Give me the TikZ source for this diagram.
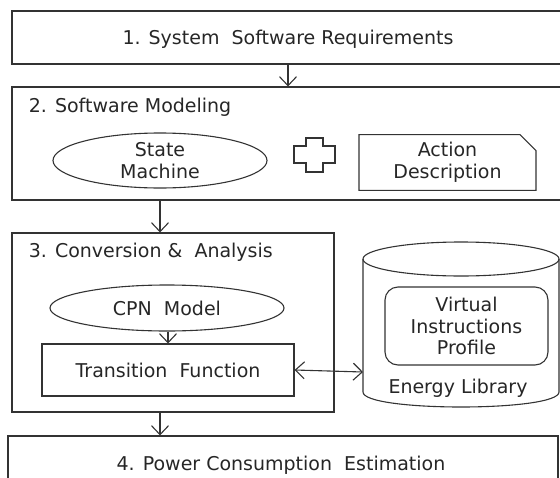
\documentclass[tikz,border=0pt]{standalone}
\usepackage{fontspec}
\setmainfont{DejaVu Sans}
\usetikzlibrary{shapes,arrows.meta,positioning}

\begin{document}
\begin{tikzpicture}[x=1pt, y=-1pt, line width=1.1pt, color=black!80,
    >={Straight Barb[length=9pt,width=17pt]},
    every node/.style={font=\fontsize{19}{21.5}\selectfont, text=black!85},
    box/.style={draw, rectangle, inner sep=0pt},
    oval/.style={draw, ellipse, inner sep=0pt},
    title/.style={anchor=west}]
   \useasboundingbox (0,0) rectangle (560,477);
   % step boxes
   \node[box, minimum width=600pt, minimum height=53pt] (req) at (312,37.5) {};
   \node (reqtext) at (288,39) {1. System\ \ Software Requirements};
   \node[box, minimum width=600pt, minimum height=113pt] (model) at (312,143.5) {};
   \node[title] (modeltext) at (25,107) {2. Software Modeling};
   \node[oval, minimum width=214pt, minimum height=55pt, align=center] (sm) at (160,160.5) {State\\Machine};
   \draw (306,138) -- (323,138) -- (323,146) -- (335,146) -- (335,163) -- (323,163)
     -- (323,172) -- (306,172) -- (306,163) -- (294,163) -- (294,146) -- (306,146) -- cycle;
   \node[draw, chamfered rectangle, chamfered rectangle corners=north east, chamfered rectangle xsep=8pt,
     chamfered rectangle ysep=8pt, inner sep=0pt, minimum width=177pt, minimum height=47pt, align=center]
     (act) at (447.5,162.5) {Action\\Description};
   \node[box, minimum width=322pt, minimum height=179pt] (conv) at (173,322.5) {};
   \node[title] (convtext) at (25,252) {3. Conversion \&\ \ Analysis};
   \node[oval, minimum width=234pt, minimum height=46pt] (cpn) at (167,308) {CPN\ \ Model};
   \node[box, minimum width=252pt, minimum height=52pt] (trans) at (168,370) {Transition\ \ Function};
   % energy library
   \draw (363,259) -- (363,392) .. controls (363,412) and (559,412) .. (559,392) -- (559,259);
   \node[oval, minimum width=196pt, minimum height=34pt] (libtop) at (461,259) {};
   \coordinate (lib) at (363,372);
   \node[draw, rounded corners=13pt, minimum width=163pt, minimum height=78pt, align=center]
     (vip) at (466.5,326) {Virtual\\Instructions\\Profile};
   \node (libtext) at (458,388) {Energy Library};
   \node[box, minimum width=550pt, minimum height=64pt] (est) at (283,468) {};
   \node (esttext) at (281,465) {4. Power Consumption\ \ Estimation};
   % arrows
   \draw[->] (req.south -| reqtext) -- (model.north -| reqtext);
   \draw[->] (model.south -| sm) -- (conv.north -| sm);
   \draw[->] (cpn.south -| trans) -- (trans.north);
   \draw[->] (conv.south -| sm) -- (est.north -| sm);
   \draw[<->] (trans.east) -- (lib);
\end{tikzpicture}
\end{document}
